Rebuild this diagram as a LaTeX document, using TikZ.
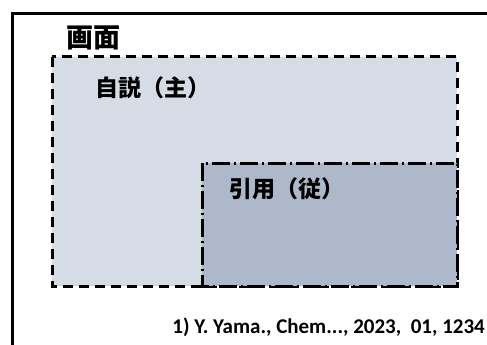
\documentclass[tikz,border=0pt]{standalone}
\usepackage{fontspec}
\setmainfont{Carlito}
\newfontfamily\cjk{Noto Sans CJK JP}
\definecolor{mainfill}{HTML}{D6DCE5}
\definecolor{quotefill}{HTML}{ADB9CA}
\tikzset{
  mainbox/.style={draw=black, fill=mainfill, line width=3pt, dash pattern=on 10pt off 6pt},
  quotebox/.style={draw=black, fill=quotefill, line width=3pt, dash pattern=on 18pt off 4pt on 2pt off 4pt},
  frame/.style={draw=black, line width=3pt},
  jplabel/.style={font=\cjk\bfseries\fontsize{23}{27}\selectfont, inner sep=0pt, anchor=west},
}
\begin{document}
\begin{tikzpicture}[x=1pt,y=-1pt]
\useasboundingbox (0,0) rectangle (487,345);
\begin{scope}
\clip (0,0) rectangle (487,345);
\draw[frame] (12.5,350) -- (12.5,14) -- (495,14);
\end{scope}
\path[mainbox] (52,57) rectangle (457,286);
\path[quotebox] (202,163) rectangle (457,286);
\node[font=\cjk\bfseries\fontsize{27}{31}\selectfont, inner sep=0pt] (title) at (93,38) {画面};
\node[jplabel] (main) at (95,88) {自説（主）};
\node[jplabel] (quote) at (229,189) {引用（従）};
\node[font=\bfseries\fontsize{21}{25}\selectfont, inner sep=0pt, anchor=east] (cite) at (485,327) {1) Y. Yama., Chem..., 2023,\ \ 01, 1234};
\end{tikzpicture}
\end{document}
